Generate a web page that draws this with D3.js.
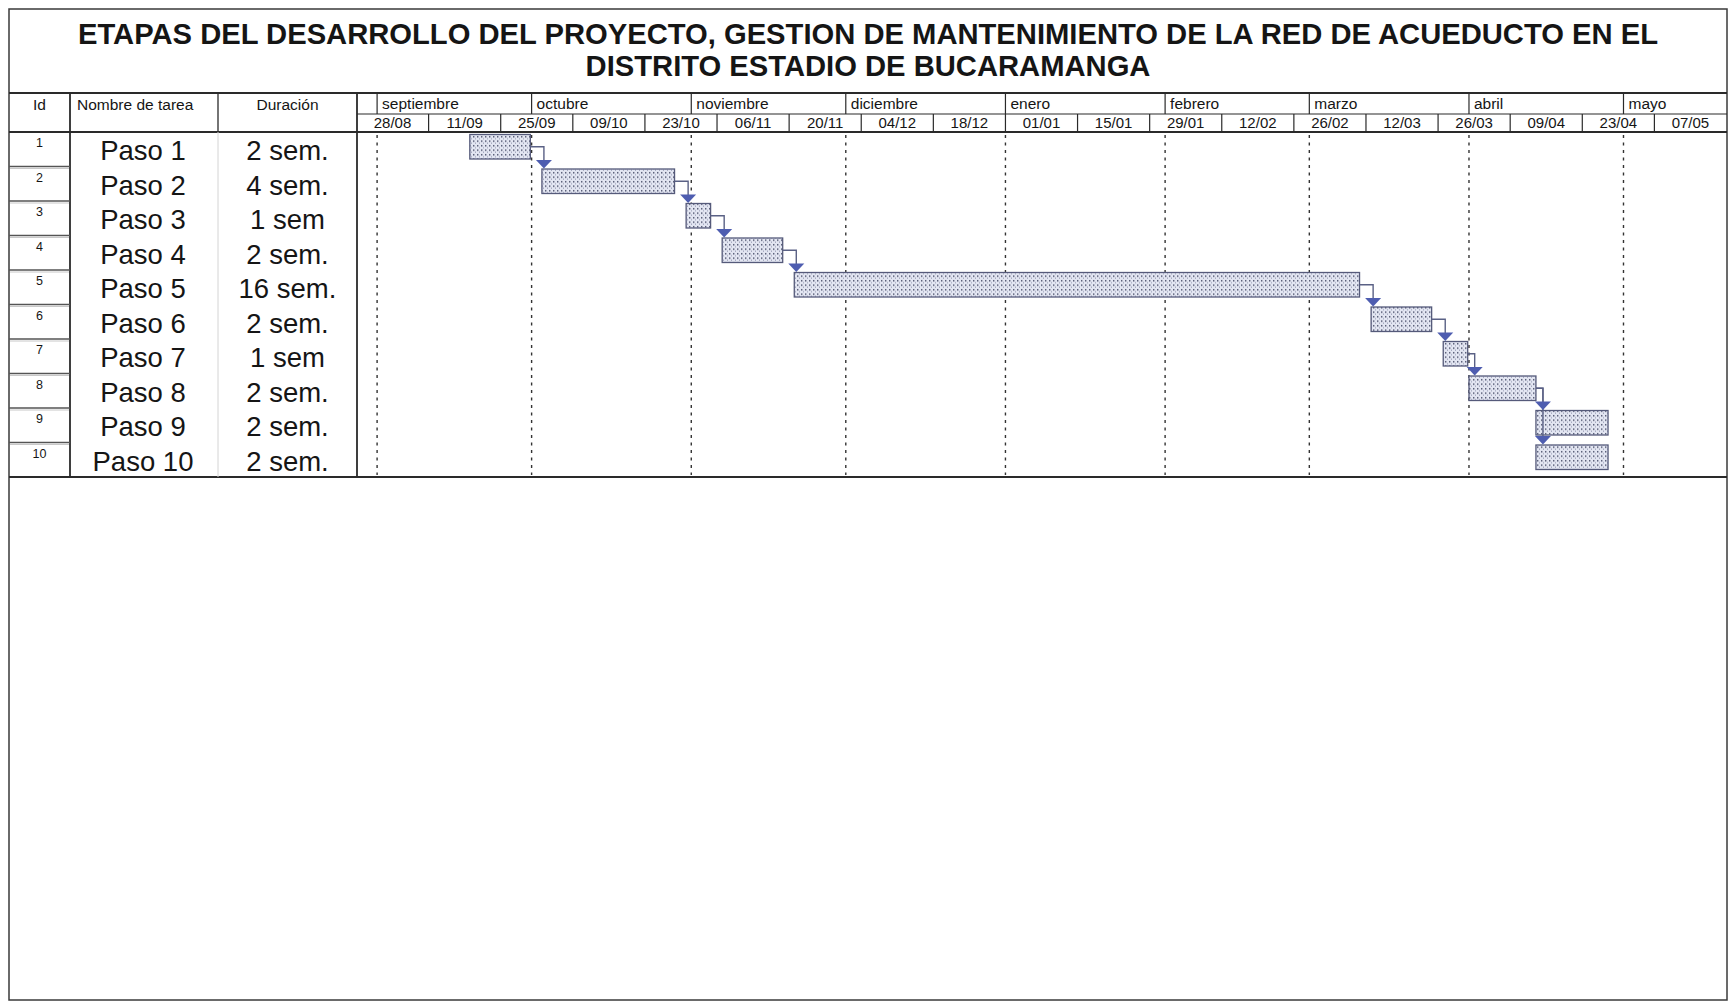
<!DOCTYPE html>
<html><head><meta charset="utf-8">
<script src="https://cdn.jsdelivr.net/npm/d3@7"></script>
<style>
body{margin:0;background:#fff}
svg{display:block}
text{font-family:"Liberation Sans",Arial,Helvetica,sans-serif;fill:#151515}
</style>
</head><body>
<svg id="chart" width="1733" height="1006"></svg>
<script>
// ---------- data ----------
const titleLines = [
  "ETAPAS DEL DESARROLLO DEL PROYECTO, GESTION DE MANTENIMIENTO DE LA RED DE ACUEDUCTO EN EL",
  "DISTRITO ESTADIO DE BUCARAMANGA"
];
const columnHeaders = ["Id", "Nombre de tarea", "Duración"];
const ids = [1, 2, 3, 4, 5, 6, 7, 8, 9, 10];
const taskNames = ["Paso 1", "Paso 2", "Paso 3", "Paso 4", "Paso 5", "Paso 6", "Paso 7", "Paso 8", "Paso 9", "Paso 10"];
const durations = ["2 sem.", "4 sem.", "1 sem", "2 sem.", "16 sem.", "2 sem.", "1 sem", "2 sem.", "2 sem.", "2 sem."];
const startDates = ["2016-09-19", "2016-10-03", "2016-10-31", "2016-11-07", "2016-11-21",
                    "2017-03-13", "2017-03-27", "2017-04-01", "2017-04-14", "2017-04-14"];
const endDates = ["2016-09-30T18:00", "2016-10-28T18:00", "2016-11-04T18:00", "2016-11-18T18:00", "2017-03-10T18:00",
                  "2017-03-24T18:00", "2017-03-31T18:00", "2017-04-14T00:00", "2017-04-28T00:00", "2017-04-28T00:00"];
const predecessors = [null, 1, 2, 3, 4, 5, 6, 7, 8, 8];
const timeRange = ["2016-08-28", "2017-05-21"];
const monthLabels = ["septiembre", "octubre", "noviembre", "diciembre", "enero", "febrero", "marzo", "abril", "mayo"];
const weekLabels = ["28/08", "11/09", "25/09", "09/10", "23/10", "06/11", "20/11", "04/12", "18/12", "01/01",
                    "15/01", "29/01", "12/02", "26/02", "12/03", "26/03", "09/04", "23/04", "07/05"];

// ---------- layout ----------
const parse = s => d3.timeParse(s.length > 10 ? "%Y-%m-%dT%H:%M" : "%Y-%m-%d")(s);
const L = 9, R = 1727, T = 9, B = 1000;
const headerTop = 93, tierSplit = 114, headerBottom = 132, bodyBottom = 477;
const colX = [9, 70, 218, 357];
const ink = "#2a2a2a";

const svg = d3.select("#chart");
const t0 = parse(timeRange[0]), t1 = parse(timeRange[1]);
const x = d3.scaleTime().domain([t0, t1]).range([356.5, 1726.5]);
const y = d3.scaleBand().domain(ids).range([headerBottom, bodyBottom]).padding(0);

// pattern for bars
const defs = svg.append("defs");
const pat = defs.append("pattern").attr("id", "dots").attr("patternUnits", "userSpaceOnUse")
  .attr("width", 4).attr("height", 4.5);
pat.append("rect").attr("width", 4).attr("height", 4.5).attr("fill", "#e3e6f2");
pat.append("rect").attr("x", 1).attr("y", 1).attr("width", 1.4).attr("height", 1.4).attr("fill", "#454a66");
pat.append("rect").attr("x", 3).attr("y", 3.2).attr("width", 1).attr("height", 1).attr("fill", "#8a8eaa");

// frame
svg.append("rect").attr("x", L).attr("y", T).attr("width", R - L).attr("height", B - T)
  .attr("fill", "#fff").attr("stroke", "#3a3a3a").attr("stroke-width", 1.5);

// title
svg.selectAll("text.title").data(titleLines).join("text").attr("class", "title")
  .attr("x", 868).attr("y", (d, i) => 44 + i * 31.5)
  .attr("text-anchor", "middle").attr("font-weight", "bold").attr("font-size", 29.2)
  .text(d => d);

// horizontal rules
const hl = (y0, xa, xb, w, c) => svg.append("line").attr("x1", xa).attr("x2", xb)
  .attr("y1", y0).attr("y2", y0).attr("stroke", c || ink).attr("stroke-width", w || 1.5);
hl(headerTop, L, R, 2);
hl(tierSplit, colX[3], R, 1.2);
hl(headerBottom, L, R, 1.8);
hl(bodyBottom, L, R, 2);

// column verticals
const vl = (x0, ya, yb, w, c) => svg.append("line").attr("x1", x0).attr("x2", x0)
  .attr("y1", ya).attr("y2", yb).attr("stroke", c || ink).attr("stroke-width", w || 1.5);
vl(colX[1], headerTop, bodyBottom, 1.8);
vl(colX[2], headerTop, headerBottom, 1.3);
vl(colX[2], headerBottom, bodyBottom, 1, "#d4d4d4");
vl(colX[3], headerTop, bodyBottom, 1.8);

// column headers
const hdrX = [(colX[0] + colX[1]) / 2, colX[1] + 7, (colX[2] + colX[3]) / 2];
const hdrAnchor = ["middle", "start", "middle"];
svg.selectAll("text.colhdr").data(columnHeaders).join("text").attr("class", "colhdr")
  .attr("x", (d, i) => hdrX[i]).attr("y", 110).attr("text-anchor", (d, i) => hdrAnchor[i])
  .attr("font-size", 15.5).text(d => d);

// timescale: months (top tier)
const monthStarts = d3.timeMonth.range(d3.timeMonth.ceil(t0), t1);
monthStarts.forEach(d => vl(x(d), headerTop, tierSplit, 1.2));
svg.selectAll("text.month").data(monthStarts).join("text").attr("class", "month")
  .attr("x", d => x(d) + 5).attr("y", 109).attr("font-size", 15.5)
  .text((d, i) => monthLabels[i]);

// timescale: two-week periods (bottom tier)
const periodStarts = d3.timeDay.range(t0, t1, 14);
periodStarts.slice(1).forEach(d => vl(x(d), tierSplit, headerBottom, 1.2));
svg.selectAll("text.week").data(periodStarts).join("text").attr("class", "week")
  .attr("x", d => (x(d) + x(d3.timeDay.offset(d, 14))) / 2).attr("y", 128)
  .attr("text-anchor", "middle").attr("font-size", 15)
  .text((d, i) => weekLabels[i]);

// dashed month gridlines
svg.selectAll("line.grid").data(monthStarts).join("line").attr("class", "grid")
  .attr("x1", d => x(d)).attr("x2", d => x(d))
  .attr("y1", headerBottom + 3).attr("y2", bodyBottom - 2)
  .attr("stroke", "#333").attr("stroke-width", 1.4).attr("stroke-dasharray", "3,4.5");

// Id cells separators
ids.slice(1).forEach(id => {
  hl(y(id), L, colX[1], 1.6, "#555");
  hl(y(id) + 2, L + 1, colX[1] - 1, 1, "#c8c8c8");
});

// id numbers
svg.selectAll("text.id").data(ids).join("text").attr("class", "id")
  .attr("x", (colX[0] + colX[1]) / 2).attr("y", d => y(d) + 15)
  .attr("text-anchor", "middle").attr("font-size", 12.5).text(d => d);

// task names
svg.selectAll("text.name").data(ids).join("text").attr("class", "name")
  .attr("x", (colX[1] + colX[2]) / 2 - 1).attr("y", d => y(d) + 28)
  .attr("text-anchor", "middle").attr("font-size", 27.5).text((d, i) => taskNames[i]);

// durations
svg.selectAll("text.dur").data(ids).join("text").attr("class", "dur")
  .attr("x", (colX[2] + colX[3]) / 2).attr("y", d => y(d) + 28)
  .attr("text-anchor", "middle").attr("font-size", 27.5).text((d, i) => durations[i]);

// bars
const tasks = ids.map((id, i) => ({
  id, start: parse(startDates[i]), end: parse(endDates[i]), pred: predecessors[i]
}));
const barTop = id => y(id) + 2.5;
const barH = 24.5;
svg.selectAll("rect.bar").data(tasks).join("rect").attr("class", "bar")
  .attr("x", d => x(d.start)).attr("y", d => barTop(d.id))
  .attr("width", d => x(d.end) - x(d.start)).attr("height", barH)
  .attr("fill", "url(#dots)").attr("stroke", "#555a7a").attr("stroke-width", 1.3);

// links (finish-to-start)
const byId = new Map(tasks.map(t => [t.id, t]));
const links = tasks.filter(t => t.pred != null).map(t => ({ from: byId.get(t.pred), to: t }));
const linkX = l => Math.max(x(l.from.end) + 7, x(l.to.start) + 2);
svg.selectAll("path.link").data(links).join("path").attr("class", "link")
  .attr("d", l => {
    const xe = x(l.from.end), ym = barTop(l.from.id) + barH / 2, xv = linkX(l);
    return `M${xe},${ym}H${xv}V${barTop(l.to.id) - 5}`;
  })
  .attr("fill", "none").attr("stroke", "#5a6185").attr("stroke-width", 1.4);
svg.selectAll("path.arrow").data(links).join("path").attr("class", "arrow")
  .attr("d", l => {
    const xv = linkX(l), yt = barTop(l.to.id);
    return `M${xv - 8},${yt - 9}L${xv + 8},${yt - 9}L${xv},${yt - 0.5}Z`;
  })
  .attr("fill", "#4e5db0");
</script>
</body></html>
